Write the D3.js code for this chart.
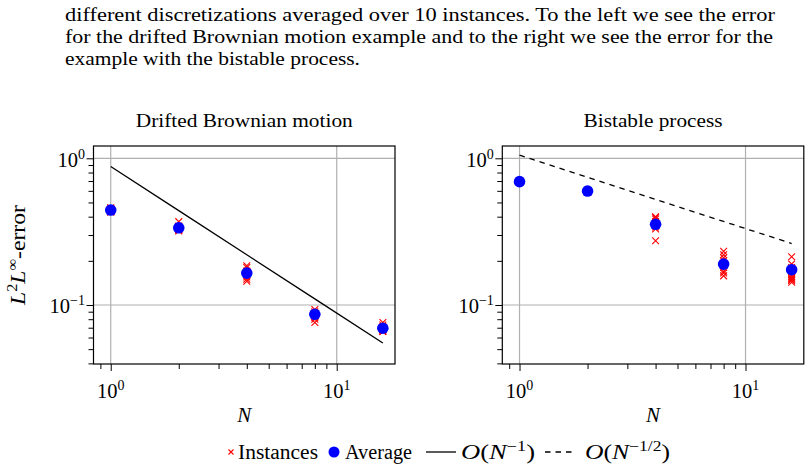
<!DOCTYPE html>
<html><head><meta charset="utf-8">
<script src="https://cdn.jsdelivr.net/npm/d3@7"></script>
<style>
body{margin:0;background:#fff}
svg{display:block}
text{font-family:"Liberation Serif","DejaVu Serif",serif;fill:#000}
</style>
</head><body>
<svg id="c" width="810" height="472"></svg>
<script>
// ---------- data ----------
const paragraphLines = [
  "different discretizations averaged over 10 instances.  To the left we see the error",
  "for the drifted Brownian motion example and to the right we see the error for the",
  "example with the bistable process."
];
const panelTitles = ["Drifted Brownian motion", "Bistable process"];
const N = [1, 2, 4, 8, 16];

// Drifted Brownian motion
const dbmInstances = [
  [0.44, 0.45, 0.43, 0.455, 0.44, 0.435, 0.45, 0.445, 0.43, 0.46],
  [0.37, 0.345, 0.335, 0.33, 0.325, 0.34, 0.32, 0.335, 0.33, 0.325],
  [0.185, 0.18, 0.17, 0.165, 0.16, 0.165, 0.155, 0.15, 0.145, 0.17],
  [0.093, 0.09, 0.088, 0.087, 0.085, 0.086, 0.084, 0.082, 0.08, 0.076],
  [0.076, 0.073, 0.071, 0.07, 0.069, 0.069, 0.068, 0.067, 0.066, 0.066]
];
const dbmAverage = [0.444, 0.336, 0.165, 0.0864, 0.0694];
const rateOrder1 = [0.88, 0.44, 0.22, 0.11, 0.055];      // O(N^-1) guide

// Bistable process
const bisInstances = [
  [0.70, 0.69, 0.695, 0.685, 0.70, 0.69, 0.695, 0.69, 0.688, 0.697],
  [0.60, 0.595, 0.59, 0.60, 0.605, 0.598, 0.592, 0.60, 0.595, 0.603],
  [0.40, 0.395, 0.385, 0.37, 0.36, 0.355, 0.35, 0.34, 0.33, 0.274],
  [0.232, 0.22, 0.21, 0.20, 0.19, 0.185, 0.18, 0.17, 0.165, 0.158],
  [0.213, 0.19, 0.18, 0.17, 0.16, 0.155, 0.152, 0.15, 0.147, 0.143]
];
const bisAverage = [0.693, 0.598, 0.355, 0.19, 0.174];
const rateOrderHalf = [1.05, 0.742, 0.525, 0.371, 0.2625]; // O(N^-1/2) guide

const xMajor = [1, 10];
const xMinor = [0.9, 2, 3, 4, 5, 6, 7, 8, 9];
const yMajor = [1, 0.1];
const yMinor = [0.9, 0.8, 0.7, 0.6, 0.5, 0.4, 0.3, 0.2, 0.09, 0.08, 0.07, 0.06, 0.05, 0.04];
const majorLabels = {1: "0", 10: "1", 0.1: "\u22121"};
const legendLabels = ["Instances", "Average"];

// ---------- layout ----------
const svg = d3.select("#c");
const xDomain = [0.839, 18.11];
const yDomain = [0.0396, 1.213];
const plotTop = 146, plotBottom = 364;
const panels = [
  {left: 93.5, right: 395, title: panelTitles[0], titleW: 217, inst: dbmInstances, avg: dbmAverage, guide: rateOrder1, dash: null, ylabel: true},
  {left: 502.3, right: 803.8, title: panelTitles[1], titleW: 139, inst: bisInstances, avg: bisAverage, guide: rateOrderHalf, dash: "5.5,5", ylabel: false}
];
const fit = (el, w) => el.attr("textLength", w).attr("lengthAdjust", "spacingAndGlyphs");

// paragraph
const para = svg.append("g");
const paraBase = [20.5, 43, 65];
const paraW = [710, 708, 295];
paragraphLines.forEach((t, i) => {
  const el = para.append("text").attr("x", 65).attr("y", paraBase[i])
    .attr("font-size", 19).text(t);
  fit(el, paraW[i]);
});

function powLabel(sel, exp) {
  sel.append("tspan").text("10");
  sel.append("tspan").attr("font-size", 14).attr("dy", -8).text(exp);
}

panels.forEach(p => {
  const x = d3.scaleLog().domain(xDomain).range([p.left, p.right]);
  const y = d3.scaleLog().domain(yDomain).range([plotBottom, plotTop]);
  const g = svg.append("g");

  // grid
  g.append("g").selectAll("line").data(xMajor).join("line")
    .attr("x1", d => x(d)).attr("x2", d => x(d)).attr("y1", plotTop).attr("y2", plotBottom)
    .attr("stroke", "#b0b0b0").attr("stroke-width", 1.2);
  g.append("g").selectAll("line").data(yMajor).join("line")
    .attr("y1", d => y(d)).attr("y2", d => y(d)).attr("x1", p.left).attr("x2", p.right)
    .attr("stroke", "#b0b0b0").attr("stroke-width", 1.2);

  // axes ticks
  const ax = (gen, pos, values, size) => {
    const a = g.append("g").attr("transform", pos)
      .call(gen.tickValues(values).tickSize(size).tickFormat(""));
    a.select(".domain").remove();
    a.selectAll("line").attr("stroke", "#000").attr("stroke-width", 1);
    return a;
  };
  ax(d3.axisBottom(x), `translate(0,${plotBottom})`, xMajor, 7);
  ax(d3.axisBottom(x), `translate(0,${plotBottom})`, xMinor.filter(v => x(v) >= p.left), 5);
  ax(d3.axisLeft(y), `translate(${p.left},0)`, yMajor, 7);
  ax(d3.axisLeft(y), `translate(${p.left},0)`, yMinor, 5);

  // tick labels
  xMajor.forEach(v => {
    const t = g.append("text").attr("x", x(v)).attr("y", 397.5).attr("text-anchor", "middle").attr("font-size", 20.5);
    powLabel(t, majorLabels[v]);
  });
  yMajor.forEach(v => {
    const t = g.append("text").attr("x", p.left - 8.5).attr("y", y(v) + 8.5).attr("text-anchor", "end").attr("font-size", 20.5);
    powLabel(t, majorLabels[v]);
  });

  // guide line
  const line = d3.line().x((d, i) => x(N[i])).y(d => y(d));
  g.append("path").datum(p.guide).attr("d", line).attr("fill", "none")
    .attr("stroke", "#000").attr("stroke-width", 1.3)
    .attr("stroke-dasharray", p.dash);

  // instances
  const pts = [];
  p.inst.forEach((arr, i) => arr.forEach(v => pts.push([N[i], v])));
  const s = 3.4;
  g.append("g").selectAll("path").data(pts).join("path")
    .attr("d", d => { const cx = x(d[0]), cy = y(d[1]);
      return `M${cx-s},${cy-s}L${cx+s},${cy+s}M${cx-s},${cy+s}L${cx+s},${cy-s}`; })
    .attr("stroke", "#ff0000").attr("stroke-width", 1.1).attr("fill", "none");

  // averages
  g.append("g").selectAll("circle").data(p.avg).join("circle")
    .attr("cx", (d, i) => x(N[i])).attr("cy", d => y(d)).attr("r", 5.8)
    .attr("fill", "#0000ff");

  // frame
  g.append("rect").attr("x", p.left).attr("y", plotTop)
    .attr("width", p.right - p.left).attr("height", plotBottom - plotTop)
    .attr("fill", "none").attr("stroke", "#000").attr("stroke-width", 1.2);

  // title
  const tt = g.append("text").attr("x", (p.left + p.right) / 2 - p.titleW / 2).attr("y", 126.5)
    .attr("font-size", 19.5).text(p.title);
  fit(tt, p.titleW);

  // x label
  g.append("text").attr("x", (p.left + p.right) / 2).attr("y", 421.5)
    .attr("text-anchor", "middle").attr("font-size", 21).attr("font-style", "italic").text("N");

  if (p.ylabel) {
    const t = g.append("text").attr("transform", `translate(25,${(plotTop + plotBottom) / 2 + 50}) rotate(-90)`)
      .attr("font-size", 20.5);
    t.append("tspan").attr("font-style", "italic").text("L");
    t.append("tspan").attr("font-size", 14).attr("dy", -8).text("2");
    t.append("tspan").attr("font-style", "italic").attr("dy", 8).text("L");
    t.append("tspan").attr("font-size", 14).attr("dy", -8).text("\u221e");
    t.append("tspan").attr("dy", 8).text("-error");
    fit(t, 100);
  }
});

// ---------- legend ----------
const lg = svg.append("g");
const ly = 452;
lg.append("path").attr("d", `M${231-2.5},${ly-2.5}L${231+2.5},${ly+2.5}M${231-2.5},${ly+2.5}L${231+2.5},${ly-2.5}`)
  .attr("stroke", "#ff0000").attr("stroke-width", 1.1);
fit(lg.append("text").attr("x", 238).attr("y", ly + 6.5).attr("font-size", 20.5).text(legendLabels[0]), 80);
lg.append("circle").attr("cx", 334).attr("cy", ly).attr("r", 5.5).attr("fill", "#0000ff");
fit(lg.append("text").attr("x", 345).attr("y", ly + 6.5).attr("font-size", 20.5).text(legendLabels[1]), 67);
lg.append("line").attr("x1", 426).attr("x2", 456).attr("y1", ly).attr("y2", ly)
  .attr("stroke", "#000").attr("stroke-width", 1.3);
function oLabel(x0, exp, w) {
  const t = lg.append("text").attr("x", x0).attr("y", ly + 6.5).attr("font-size", 20.5);
  t.append("tspan").attr("font-style", "italic").text("O");
  t.append("tspan").text("(");
  t.append("tspan").attr("font-style", "italic").text("N");
  t.append("tspan").attr("font-size", 14).attr("dy", -8).text(exp);
  t.append("tspan").attr("dy", 8).text(")");
  fit(t, w);
}
oLabel(461, "\u22121", 74);
lg.append("line").attr("x1", 545).attr("x2", 575).attr("y1", ly).attr("y2", ly)
  .attr("stroke", "#000").attr("stroke-width", 1.3).attr("stroke-dasharray", "5.5,5");
oLabel(585, "\u22121/2", 85);
</script>
</body></html>
